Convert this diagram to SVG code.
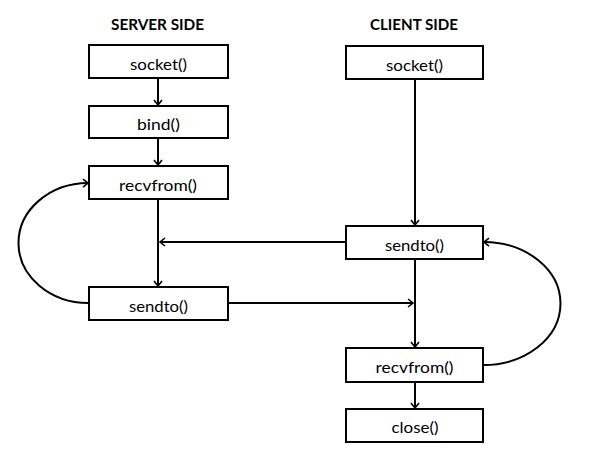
<svg xmlns="http://www.w3.org/2000/svg" width="592" height="456" viewBox="0 0 592 456">
<style>
.box{fill:#fff;stroke:#000;stroke-width:2}
.lbl{font-family:Lato,"Open Sans",sans-serif;font-size:14.8px;text-anchor:middle;fill:#000}
.hd{font-family:Lato,"Open Sans",sans-serif;font-size:16px;font-weight:bold;text-anchor:middle;fill:#000}
.ln{fill:none;stroke:#000;stroke-width:2}
</style>
<defs>
<marker id="ah" markerWidth="10" markerHeight="10" refX="8" refY="5" orient="auto" markerUnits="userSpaceOnUse">
<path d="M3,1 L8,5 L3,9" fill="none" stroke="#000" stroke-width="1.6"/>
</marker>
</defs>
<rect width="592" height="456" fill="#fff"/>
<text class="hd" x="157.5" y="30" textLength="93" lengthAdjust="spacingAndGlyphs">SERVER SIDE</text>
<text class="hd" x="414" y="30" textLength="88" lengthAdjust="spacingAndGlyphs">CLIENT SIDE</text>
<g id="connectors">
<line class="ln" x1="158" y1="78" x2="158" y2="105" marker-end="url(#ah)"/>
<line class="ln" x1="158" y1="138" x2="158" y2="165" marker-end="url(#ah)"/>
<line class="ln" x1="158" y1="199" x2="158" y2="286" marker-end="url(#ah)"/>
<line class="ln" x1="415" y1="79" x2="415" y2="225" marker-end="url(#ah)"/>
<line class="ln" x1="415" y1="259" x2="415" y2="347" marker-end="url(#ah)"/>
<line class="ln" x1="415" y1="382" x2="415" y2="408" marker-end="url(#ah)"/>
<line class="ln" x1="346" y1="242" x2="160" y2="242" marker-end="url(#ah)"/>
<line class="ln" x1="228" y1="303" x2="413" y2="303" marker-end="url(#ah)"/>
<path class="ln" d="M89,303 A70,60 0 0 1 88,183" marker-end="url(#ah)"/>
<path class="ln" d="M483,365 A77,61.5 0 0 0 484,242" marker-end="url(#ah)"/>
</g>
<g id="s-socket"><rect class="box" x="89" y="45" width="139" height="33"/><text class="lbl" x="158.5" y="69.5" textLength="57" lengthAdjust="spacingAndGlyphs">socket()</text></g>
<g id="s-bind"><rect class="box" x="89" y="106" width="139" height="32"/><text class="lbl" x="158.5" y="130" textLength="43" lengthAdjust="spacingAndGlyphs">bind()</text></g>
<g id="s-recvfrom"><rect class="box" x="89" y="166" width="139" height="33"/><text class="lbl" x="158" y="190.5" textLength="78" lengthAdjust="spacingAndGlyphs">recvfrom()</text></g>
<g id="s-sendto"><rect class="box" x="89" y="287" width="139" height="33"/><text class="lbl" x="158.5" y="312" textLength="59" lengthAdjust="spacingAndGlyphs">sendto()</text></g>
<g id="c-socket"><rect class="box" x="346" y="46" width="137" height="33"/><text class="lbl" x="414.5" y="70.5" textLength="57" lengthAdjust="spacingAndGlyphs">socket()</text></g>
<g id="c-sendto"><rect class="box" x="346" y="226" width="137" height="33"/><text class="lbl" x="414.5" y="250.5" textLength="59" lengthAdjust="spacingAndGlyphs">sendto()</text></g>
<g id="c-recvfrom"><rect class="box" x="346" y="348" width="137" height="34"/><text class="lbl" x="414.5" y="373" textLength="78" lengthAdjust="spacingAndGlyphs">recvfrom()</text></g>
<g id="c-close"><rect class="box" x="346" y="409" width="137" height="33"/><text class="lbl" x="415" y="433" textLength="47" lengthAdjust="spacingAndGlyphs">close()</text></g>
</svg>
